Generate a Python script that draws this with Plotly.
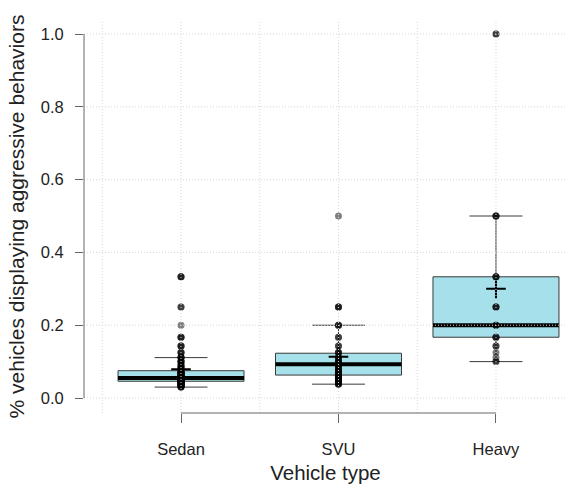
import plotly.graph_objects as go

# ---- data ----
categories = ["Sedan", "SVU", "Heavy"]
q1_vals = [0.046, 0.063, 0.167]
median_vals = [0.055, 0.093, 0.200]
q3_vals = [0.075, 0.123, 0.333]
lower_whisker = [0.030, 0.038, 0.100]
upper_whisker = [0.111, 0.200, 0.500]
mean_vals = [0.079, 0.113, 0.300]

sedan_points = ([0.333] * 3 + [0.25] * 2 + [0.2] + [0.167] * 3 + [0.143] * 3 + [0.125] * 3 +
                [0.111] * 4 + [0.1] * 4 + [0.091] * 3 + [0.083] * 4 + [0.077] * 3 + [0.071] * 4 +
                [0.067] * 5 + [0.0625] * 4 + [0.059] * 4 + [0.056] * 5 + [0.053] * 4 + [0.05] * 5 +
                [0.048] * 3 + [0.045] * 4 + [0.043] * 3 + [0.04] * 4 + [0.038] * 3 + [0.036] * 3 +
                [0.033] * 3 + [0.03] * 3)
svu_points = ([0.5] + [0.25] * 3 + [0.2] * 3 + [0.167] * 2 + [0.143] * 2 + [0.125] * 3 +
              [0.111] * 3 + [0.1] * 4 + [0.091] * 3 + [0.083] * 3 + [0.077] * 3 + [0.071] * 3 +
              [0.067] * 3 + [0.0625] * 3 + [0.059] * 2 + [0.056] * 3 + [0.053] * 2 + [0.05] * 3 +
              [0.048] * 2 + [0.045] * 2 + [0.043] * 2 + [0.04] * 2 + [0.038] * 2)
heavy_points = ([1.0] * 2 + [0.5] * 3 + [0.333] * 3 + [0.25] * 3 + [0.2] * 3 + [0.167] * 3 +
                [0.143] * 2 + [0.125] + [0.111] + [0.1] * 2)
points = [sedan_points, svu_points, heavy_points]

y_ticks = [0.0, 0.2, 0.4, 0.6, 0.8, 1.0]
x_grid = [-0.5, 0, 0.5, 1, 1.5, 2]

FONT = "Liberation Sans, Arial, sans-serif"
BOX_W = 0.8
GRID = dict(color="#d6d6d6", width=1, dash="1px,2px")

fig = go.Figure()

for i, cat in enumerate(categories):
    fig.add_trace(go.Box(
        x=[i], q1=[q1_vals[i]], median=[median_vals[i]], q3=[q3_vals[i]],
        lowerfence=[lower_whisker[i]], upperfence=[upper_whisker[i]],
        width=BOX_W, whiskerwidth=0.42, fillcolor="#A6E1EB",
        line=dict(color="#3a3a3a", width=1), boxpoints=False,
        showlegend=False, hoverinfo="skip"))
    # thick median
    fig.add_trace(go.Scatter(
        x=[i - BOX_W / 2, i + BOX_W / 2], y=[median_vals[i]] * 2, mode="lines",
        line=dict(color="black", width=4), showlegend=False, hoverinfo="skip"))
    # points
    fig.add_trace(go.Scatter(
        x=[i] * len(points[i]), y=points[i], mode="markers",
        marker=dict(color="black", size=7, opacity=0.5, line=dict(width=0)),
        showlegend=False, hoverinfo="skip"))
    # mean
    fig.add_trace(go.Scatter(
        x=[i], y=[mean_vals[i]], mode="markers",
        marker=dict(symbol="cross-thin", size=14, line=dict(color="black", width=2)),
        showlegend=False, hoverinfo="skip"))

shapes = []
for v in y_ticks:
    shapes.append(dict(type="line", xref="paper", x0=0, x1=1, yref="y", y0=v, y1=v,
                       line=GRID, layer="above"))
for v in x_grid:
    shapes.append(dict(type="line", xref="x", x0=v, x1=v, yref="paper", y0=0, y1=1,
                       line=GRID, layer="above"))
# axis lines (R style, spanning tick range)
shapes.append(dict(type="line", xref="paper", x0=0, x1=0, yref="y", y0=y_ticks[0], y1=y_ticks[-1],
                   line=dict(color="#666666", width=1)))
shapes.append(dict(type="line", xref="x", x0=0, x1=len(categories) - 1, yref="paper", y0=0, y1=0,
                   line=dict(color="#666666", width=1)))

fig.update_layout(
    width=567, height=485,
    margin=dict(l=84, r=0, t=20, b=72),
    paper_bgcolor="white", plot_bgcolor="white",
    font=dict(family=FONT, color="#222222"),
    shapes=shapes,
    xaxis=dict(
        range=[-0.616, 2.451], tickvals=list(range(len(categories))), ticktext=categories,
        ticks="outside", ticklen=9, tickcolor="#666666", tickwidth=1,
        showgrid=False, zeroline=False, showline=False,
        tickfont=dict(size=16.5, color="#222222"), ticklabelstandoff=12,
        title=dict(text="Vehicle type", font=dict(size=20.5, color="#222222"), standoff=8),
    ),
    yaxis=dict(
        range=[-0.0412, 1.0385], tickvals=y_ticks, ticktext=[f"{v:.1f}" for v in y_ticks],
        ticks="outside", ticklen=8, tickcolor="#666666", tickwidth=1,
        showgrid=False, zeroline=False, showline=False,
        tickfont=dict(size=16.5, color="#222222"), ticklabelstandoff=8,
        title=dict(text="% vehicles displaying aggressive behaviors",
                   font=dict(size=21, color="#222222"), standoff=10),
    ),
)

fig.write_html("out.html", config={"displayModeBar": False},
               post_script="document.body.style.margin='0px';")
